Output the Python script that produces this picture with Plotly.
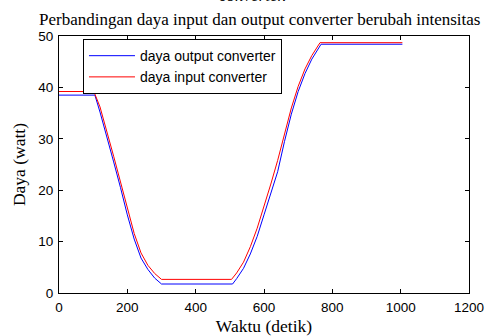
import plotly.graph_objects as go

# Data
t_out = [0, 105, 120, 140, 160, 180, 200, 220, 240, 260, 280, 300,
         508, 520, 540, 560, 580, 600, 620, 640, 660, 680, 700, 720, 740, 767, 1005]
p_out = [38.5, 38.5, 35.2, 30.5, 25.5, 20.5, 15.2, 10.5, 6.8, 4.6, 2.9, 1.75,
         1.75, 2.8, 4.8, 7.6, 11.0, 15.2, 19.2, 23.6, 29.5, 34.8, 39.2, 42.7, 45.5, 48.4, 48.4]

t_in = [0, 102, 120, 140, 160, 180, 200, 220, 240, 260, 280, 300,
        505, 520, 540, 560, 580, 600, 620, 640, 660, 680, 700, 720, 740, 764, 1005]
p_in = [39.2, 39.2, 36.2, 31.6, 26.6, 21.6, 16.4, 11.6, 7.8, 5.4, 3.8, 2.65,
        2.65, 3.9, 6.0, 9.0, 12.6, 16.8, 21.2, 25.8, 31.0, 36.0, 40.2, 43.6, 46.2, 48.7, 48.7]

x_ticks = [0, 200, 400, 600, 800, 1000, 1200]
y_ticks = [0, 10, 20, 30, 40, 50]

title_top = "converter."
title_main = "Perbandingan daya input dan output converter berubah intensitas"
x_label = "Waktu (detik)"
y_label = "Daya (watt)"
names = ["daya output converter", "daya input converter"]

serif = "Liberation Serif, Times New Roman, serif"
sans = "Liberation Sans, Arial, sans-serif"

fig = go.Figure()
fig.add_trace(go.Scatter(x=t_out, y=p_out, mode="lines", name=names[0],
                         line=dict(color="rgb(0,0,255)", width=1)))
fig.add_trace(go.Scatter(x=t_in, y=p_in, mode="lines", name=names[1],
                         line=dict(color="rgb(255,0,0)", width=1)))

axis_common = dict(showline=True, linecolor="black", linewidth=1, mirror="ticks",
                   ticks="inside", ticklen=4, tickcolor="black", showgrid=False,
                   zeroline=False, ticklabelstandoff=2, automargin=False,
                   tickfont=dict(family=sans, size=13.5, color="black"))

fig.update_layout(
    width=502, height=336,
    margin=dict(l=59, r=33, t=36, b=43),
    paper_bgcolor="white", plot_bgcolor="white",
    showlegend=True,
    legend=dict(x=0.0585, y=0.988, xanchor="left", yanchor="top",
                bgcolor="white", bordercolor="black", borderwidth=1,
                itemwidth=46,
                font=dict(family=sans, size=14, color="black"),
                tracegroupgap=0),
    xaxis=dict(range=[0, 1200], tickvals=x_ticks, title=dict(text=x_label, standoff=6,
               font=dict(family=serif, size=17.5, color="black")), **axis_common),
    yaxis=dict(range=[0, 50], tickvals=y_ticks, title=dict(text=y_label, standoff=8,
               font=dict(family=serif, size=17.5, color="black")), **axis_common),
    annotations=[
        dict(text="<i>" + title_top + "</i>", xref="paper", yref="paper",
             x=0.473, y=1.0, yshift=29, xanchor="center", yanchor="bottom",
             showarrow=False, font=dict(family=serif, size=17, color="black")),
        dict(text=title_main, xref="paper", yref="paper",
             x=0.49, y=1.0, yshift=5, xanchor="center", yanchor="bottom",
             showarrow=False, font=dict(family=serif, size=17, color="black")),
    ],
)

fig.write_html("out.html")
